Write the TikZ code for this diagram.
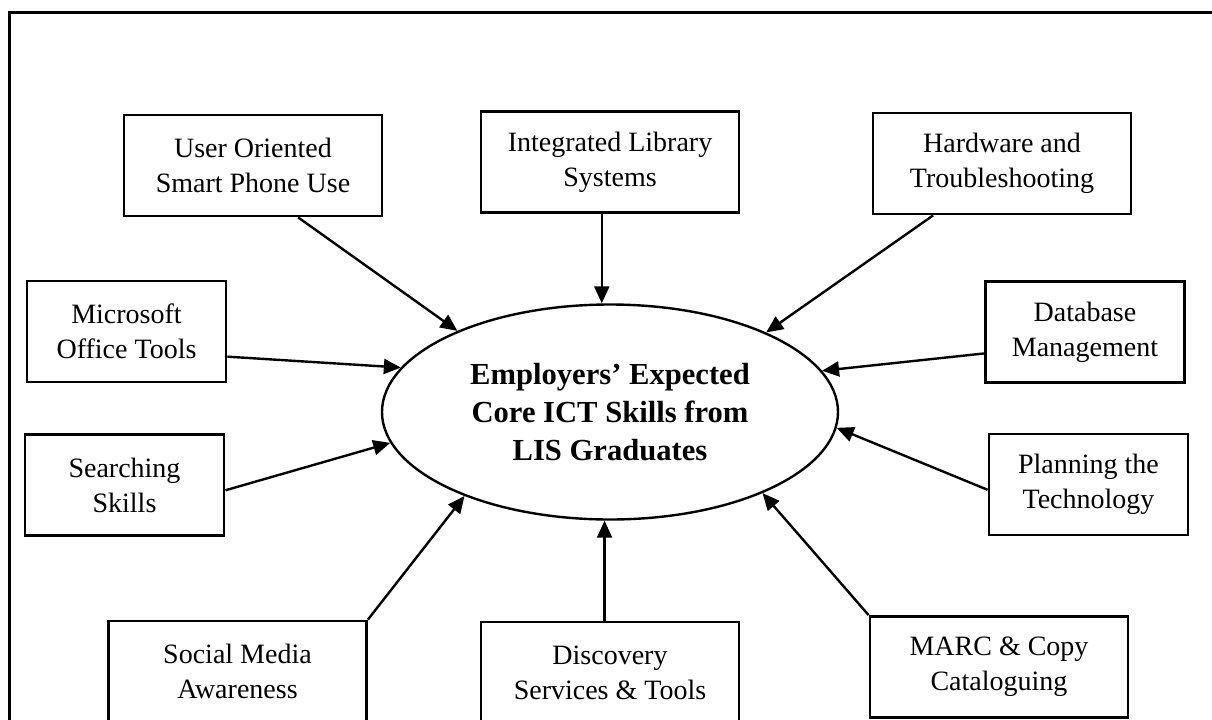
\documentclass[tikz,border=0pt]{standalone}
\usepackage{fontspec}
\setmainfont{Liberation Serif}
\usetikzlibrary{arrows.meta,shapes.geometric}

\begin{document}
\begin{tikzpicture}[x=0.5pt, y=-0.5pt,
        corenode0/.style={ellipse, draw=black, line width=1.2pt, minimum width=228pt, minimum height=107.5pt, align=center, font=\fontsize{15.3pt}{19pt}\selectfont\bfseries},
        skillnode1/.style={rectangle, draw=black, line width=1.4pt, minimum width=129pt, minimum height=50.5pt, align=center, font=\fontsize{14pt}{17.5pt}\selectfont},
        skillnode2/.style={skillnode1, minimum width=99.5pt},
        arrowline/.style={-{Triangle[length=8.5pt, width=7.5pt]}, line width=1.2pt},
    ]
    \useasboundingbox (0,0) rectangle (1212,719);
    \clip (0,0) rectangle (1212,719);
    %Frame
    \draw[line width=1.5pt] (9,740) -- (9,12) -- (1230,12);
    %Nodes
    \node[corenode0]  (corenode)  at (610,412) {Employers’ Expected\\Core ICT Skills from\\LIS Graduates};
    \node[skillnode1] (usernode)  at (253,165.5) {User Oriented\\Smart Phone Use};
    \node[skillnode1] (ilsnode)   at (610,162) {Integrated Library\\Systems};
    \node[skillnode1] (hwnode)    at (1002,163.5) {Hardware and\\Troubleshooting};
    \node[skillnode2] (msnode)    at (126.5,331.5) {Microsoft\\Office Tools};
    \node[skillnode2] (searchnode) at (124.5,485) {Searching\\Skills};
    \node[skillnode2] (dbnode)    at (1085,332) {Database\\Management};
    \node[skillnode2] (plannode)  at (1088.5,484.5) {Planning the\\Technology};
    \node[skillnode1] (socialnode) at (237.5,671.5) {Social Media\\Awareness};
    \node[skillnode1] (discnode)  at (610,672.5) {Discovery\\Services \& Tools};
    \node[skillnode1] (marcnode)  at (999,667) {MARC \& Copy\\Cataloguing};
    %Lines
    \draw[arrowline] (usernode.-49) -- (corenode.152);
    \draw[arrowline] (ilsnode.-99) -- (ilsnode.-99 |- corenode.north);
    \draw[arrowline] (hwnode.217) -- (corenode.27);
    \draw[arrowline] (msnode.-14) -- (corenode.168);
    \draw[arrowline] (searchnode.-3) -- (corenode.188);
    \draw[arrowline] (dbnode.192) -- (corenode.11);
    \draw[arrowline] (plannode.183) -- (corenode.-4);
    \draw[arrowline] (socialnode.north east) -- (corenode.210);
    \draw[arrowline] (discnode.96) -- (discnode.96 |- corenode.south);
    \draw[arrowline] (marcnode.north west) -- (corenode.332);
\end{tikzpicture}
\end{document}
